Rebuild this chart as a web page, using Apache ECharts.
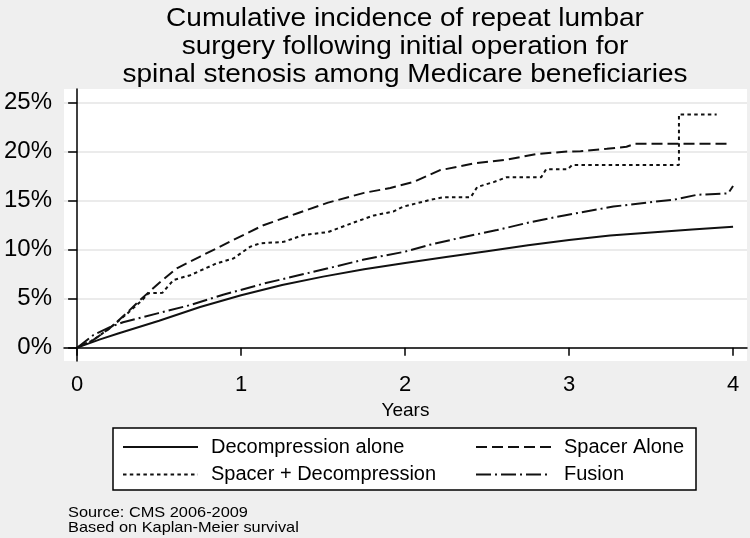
<!DOCTYPE html>
<html>
<head>
<meta charset="utf-8">
<script src="https://cdn.jsdelivr.net/npm/echarts@6/dist/echarts.min.js"></script>
<style>
html,body{margin:0;padding:0;background:#efefef;}
#chart{width:750px;height:538px;}
</style>
</head>
<body>
<div id="chart"></div>
<script>
// ---- Text ----
const titleText = 'Cumulative incidence of repeat lumbar\nsurgery following initial operation for\nspinal stenosis among Medicare beneficiaries';
const sourceText = 'Source: CMS 2006-2009\nBased on Kaplan-Meier survival';
const xAxisName = 'Years';

// ---- Ticks ----
const xTicks = [0, 1, 2, 3, 4];
const yTicks = [0, 5, 10, 15, 20, 25];

// ---- Series names ----
const names = ['Decompression alone', 'Spacer Alone', 'Spacer + Decompression', 'Fusion'];

// ---- Data (years, cumulative incidence %) ----
const decompT = [0, 0.14, 0.25, 0.5, 0.75, 1.0, 1.25, 1.5, 1.75, 2.0, 2.25, 2.5, 2.75, 3.0, 3.25, 3.5, 3.75, 4.0];
const decompV = [0, 0.85, 1.45, 2.75, 4.15, 5.35, 6.4, 7.25, 8.0, 8.65, 9.25, 9.85, 10.45, 11.0, 11.45, 11.75, 12.05, 12.35];

const spacerT = [0, 0.1, 0.2, 0.3, 0.384, 0.5, 0.608, 0.75, 0.953, 1.136, 1.34, 1.53, 1.75, 1.91, 2.05, 2.21, 2.42, 2.62, 2.80, 2.97, 3.07, 3.23, 3.35, 3.4, 3.99];
const spacerV = [0, 0.8, 2.0, 3.5, 4.87, 6.6, 8.1, 9.3, 11.0, 12.5, 13.7, 14.8, 15.8, 16.3, 16.9, 18.1, 18.8, 19.2, 19.75, 20.0, 20.05, 20.3, 20.5, 20.8, 20.8];

const spDecT = [0, 0.1, 0.2, 0.3, 0.4, 0.435, 0.52, 0.587, 0.69, 0.85, 0.953, 1.055, 1.116, 1.26, 1.38, 1.53, 1.70, 1.81, 1.93, 1.99, 2.11, 2.15, 2.23, 2.40, 2.44, 2.54, 2.62, 2.83, 2.86, 2.99, 3.02, 3.67, 3.67, 3.90];
const spDecV = [0, 0.8, 2.0, 3.4, 4.9, 5.55, 5.6, 6.9, 7.4, 8.6, 9.1, 10.3, 10.65, 10.8, 11.5, 11.8, 12.85, 13.5, 13.9, 14.4, 14.9, 15.07, 15.35, 15.35, 16.4, 16.9, 17.4, 17.4, 18.2, 18.2, 18.65, 18.65, 23.8, 23.8];

const fusionT = [0, 0.1, 0.2, 0.28, 0.49, 0.69, 0.89, 1.14, 1.53, 1.75, 2.0, 2.15, 2.36, 2.56, 2.76, 2.97, 3.27, 3.47, 3.64, 3.78, 3.97, 4.0];
const fusionV = [0, 1.3, 2.1, 2.6, 3.5, 4.35, 5.4, 6.55, 8.1, 9.0, 9.8, 10.5, 11.3, 12.0, 12.8, 13.5, 14.4, 14.8, 15.1, 15.6, 15.75, 16.5];

function pairs(t, v) { return t.map((x, i) => [x, v[i]]); }

const FONT = '"Liberation Sans", Arial, sans-serif';
const lineColor = '#111';

const chart = echarts.init(document.getElementById('chart'), null, {renderer: 'canvas'});

function mkSeries(name, t, v, type) {
  return {
    name: name,
    type: 'line',
    data: pairs(t, v),
    symbol: 'none',
    showSymbol: false,
    smooth: false,
    lineStyle: {color: lineColor, width: 2, type: type},
    itemStyle: {color: lineColor},
    emphasis: {disabled: true},
    animation: false
  };
}

const legendCommon = {
  orient: 'vertical',
  top: 437,
  itemWidth: 75,
  itemHeight: 20,
  itemGap: 7.5,
  padding: 0,
  selectedMode: false,
  itemStyle: {opacity: 0},
  lineStyle: {opacity: 1},
  textStyle: {fontSize: 20, fontFamily: FONT, color: '#000', padding: [0, 0, 0, 8]}
};

chart.setOption({
  backgroundColor: '#efefef',
  animation: false,
  textStyle: {fontFamily: FONT},
  grid: {
    left: 64, right: 3, top: 89, bottom: 177,
    show: true, backgroundColor: '#ffffff', borderWidth: 0
  },
  xAxis: {
    type: 'value',
    min: -0.08, max: 4.085,
    name: xAxisName,
    nameLocation: 'middle',
    nameGap: 28,
    nameTextStyle: {fontSize: 19, color: '#000', fontFamily: FONT},
    axisLine: {show: true, lineStyle: {color: '#000', width: 1.5}},
    axisTick: {show: true, length: 8, customValues: xTicks, lineStyle: {color: '#000', width: 1.5}},
    axisLabel: {customValues: xTicks, fontSize: 22, color: '#000', margin: 13, fontFamily: FONT},
    splitLine: {show: false}
  },
  yAxis: {
    type: 'value',
    min: -1.36, max: 26.4,
    axisLine: {show: true, lineStyle: {color: '#000', width: 1.5}},
    axisTick: {show: true, length: 9, customValues: yTicks, lineStyle: {color: '#000', width: 1.5}},
    axisLabel: {customValues: yTicks, formatter: '{value}%', fontSize: 24, color: '#000', margin: 12, fontFamily: FONT},
    splitLine: {show: true, lineStyle: {color: '#e4e4e4', width: 1.5}}
  },
  legend: [
    Object.assign({}, legendCommon, {left: 122, data: [names[0], names[2]]}),
    Object.assign({}, legendCommon, {left: 475, data: [names[1], names[3]]})
  ],
  graphic: [
    {
      type: 'text', x: 405, y: 5, scaleX: 1.12, z: 10,
      style: {text: titleText, font: '25px ' + FONT, fill: '#000', textAlign: 'center', textVerticalAlign: 'top', lineHeight: 28}
    },
    {
      type: 'rect', z: -1,
      shape: {x: 113, y: 428, width: 583, height: 62},
      style: {fill: '#ffffff', stroke: '#000', lineWidth: 1.5}
    },
    {
      type: 'text', x: 68, y: 505, scaleX: 1.09, z: 10,
      style: {text: sourceText, font: '15px ' + FONT, fill: '#000', textAlign: 'left', textVerticalAlign: 'top', lineHeight: 15}
    }
  ],
  series: [
    mkSeries(names[0], decompT, decompV, 'solid'),
    mkSeries(names[1], spacerT, spacerV, [11, 5]),
    mkSeries(names[2], spDecT, spDecV, [3.5, 3.3]),
    mkSeries(names[3], fusionT, fusionV, [15, 4, 2, 4])
  ]
});
</script>
</body>
</html>
